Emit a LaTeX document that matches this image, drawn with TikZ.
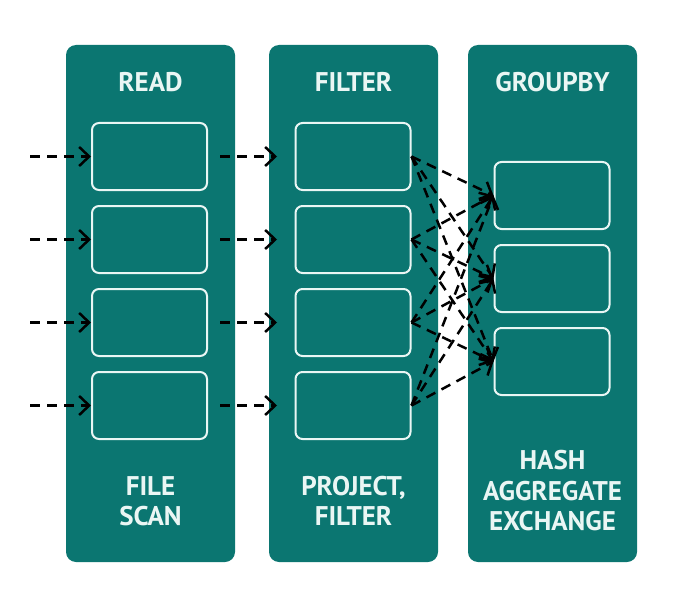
\documentclass[tikz,border=0pt]{standalone}
\usepackage{fontspec}
\setmainfont{PT Sans}
\usetikzlibrary{arrows.meta}
\definecolor{teal1}{HTML}{0B7671}
\definecolor{txt}{HTML}{EAF6F4}
\tikzset{
  column/.style={fill=teal1, rounded corners=10pt, minimum width=169pt, minimum height=517pt, inner sep=0pt},
  slot/.style={draw=txt, line width=2pt, fill=teal1, rounded corners=7pt, minimum width=115pt, minimum height=67pt, inner sep=0pt},
  lbl/.style={text=txt, font=\bfseries\fontsize{27}{30.5}\selectfont, align=center},
  flow/.style={draw=black, line width=2.5pt, dash pattern=on 10pt off 7pt, -{Straight Barb[length=10pt,width=19pt,line width=2.5pt]}},
}
\begin{document}
\begin{tikzpicture}[x=1pt,y=-1pt]
\useasboundingbox (0,0) rectangle (680,615);
% columns
\node[column] (colR) at (150.5,303.5) {};
\node[column] (colF) at (353.5,303.5) {};
\node[column] (colG) at (552.5,303.5) {};
% titles
\node[lbl] (tR) at (150.5,82) {READ};
\node[lbl] (tF) at (353.5,82) {FILTER};
\node[lbl] (tG) at (552.5,82) {GROUPBY};
% bottoms
\node[lbl] (bR) at (150.5,501) {FILE\\SCAN};
\node[lbl] (bF) at (353.5,501) {PROJECT,\\FILTER};
\node[lbl] (bG) at (552.5,491) {HASH\\AGGREGATE\\EXCHANGE};
% slots
\foreach \i/\y in {1/156.5,2/239.5,3/322.5,4/405.5}{
  \node[slot] (r\i) at (149.5,\y) {};
  \node[slot] (f\i) at (353,\y) {};
  \coordinate (in\i) at (30,\y);
  \coordinate (m\i) at (220,\y);
  \coordinate (mt\i) at (277,\y);
}
\foreach \j/\y in {1/195.5,2/278.5,3/361.5}{
  \node[slot] (g\j) at (552,\y) {};
}
% arrows
\foreach \i in {1,2,3,4}{
  \draw[flow] (in\i) -- (r\i.west);
  \draw[flow] (m\i) -- (mt\i);
  \foreach \j in {1,2,3}{
    \draw[flow] (f\i.east) -- (g\j.west);
  }
}
\end{tikzpicture}
\end{document}
